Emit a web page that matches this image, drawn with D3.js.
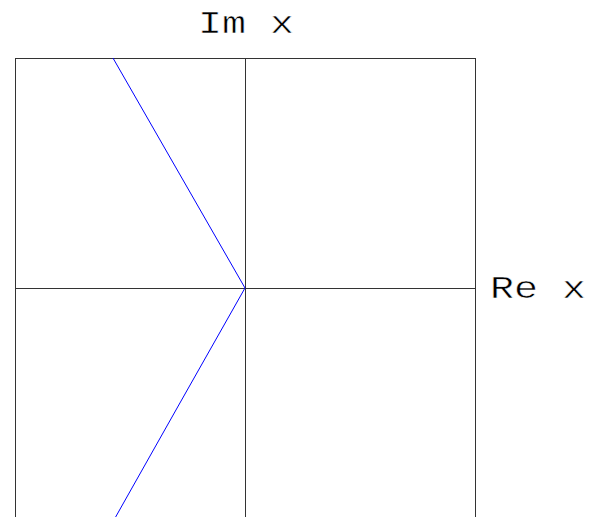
<!DOCTYPE html>
<html>
<head>
<meta charset="utf-8">
<script src="https://cdn.jsdelivr.net/npm/d3@7"></script>
<style>
  html, body { margin: 0; padding: 0; background: #fff; }
  svg { display: block; }
  text { font-family: "Liberation Mono", "Courier New", monospace; fill: #000; }
</style>
</head>
<body>
<svg id="chart" width="590" height="517"></svg>
<script>
// Complex-plane branches of x, as (Re x, Im x) pairs
const upperRe = [0, -0.287, -0.574];
const upperIm = [0, 0.5, 1];
const lowerRe = [0, -0.283, -0.565];
const lowerIm = [0, -0.5, -1];
const xLabel = "Re x";
const yLabel = "Im x";

const svg = d3.select("#chart");
const plotLeft = 15, plotTop = 58, plotSize = 460;

const x = d3.scaleLinear().domain([-1, 1]).range([plotLeft, plotLeft + plotSize]);
const y = d3.scaleLinear().domain([-1, 1]).range([plotTop + plotSize, plotTop]);

// frame
svg.append("rect")
  .attr("x", x(-1) + 0.5).attr("y", y(1) + 0.5)
  .attr("width", x(1) - x(-1)).attr("height", y(-1) - y(1))
  .attr("fill", "none").attr("stroke", "#333").attr("stroke-width", 1);

// axes through the origin
svg.append("line")
  .attr("x1", x(-1)).attr("x2", x(1))
  .attr("y1", Math.round(y(0)) + 0.5).attr("y2", Math.round(y(0)) + 0.5)
  .attr("stroke", "#333").attr("stroke-width", 1);
svg.append("line")
  .attr("x1", Math.round(x(0)) + 0.5).attr("x2", Math.round(x(0)) + 0.5)
  .attr("y1", y(1)).attr("y2", y(-1))
  .attr("stroke", "#333").attr("stroke-width", 1);

// branches
const line = d3.line().x(d => x(d[0])).y(d => y(d[1]));
const branches = [
  d3.zip(upperRe, upperIm),
  d3.zip(lowerRe, lowerIm)
];
svg.selectAll("path.branch").data(branches).join("path")
  .attr("class", "branch")
  .attr("d", line)
  .attr("fill", "none")
  .attr("stroke", "#0000ff")
  .attr("stroke-width", 1);

// axis labels: wide, light monospace lettering
const labelSize = 32, labelWidth = 96;
function label(sel) {
  sel.attr("font-size", labelSize)
    .attr("textLength", labelWidth)
    .attr("lengthAdjust", "spacingAndGlyphs")
    .attr("stroke", "#fff")
    .attr("stroke-width", 0.5)
    .attr("paint-order", "fill");
}
svg.append("text")
  .attr("x", x(0) + 1 - labelWidth / 2).attr("y", 33)
  .call(label)
  .text(yLabel);
svg.append("text")
  .attr("x", x(1) + 15).attr("y", y(0) + 10)
  .call(label)
  .text(xLabel);
</script>
</body>
</html>
